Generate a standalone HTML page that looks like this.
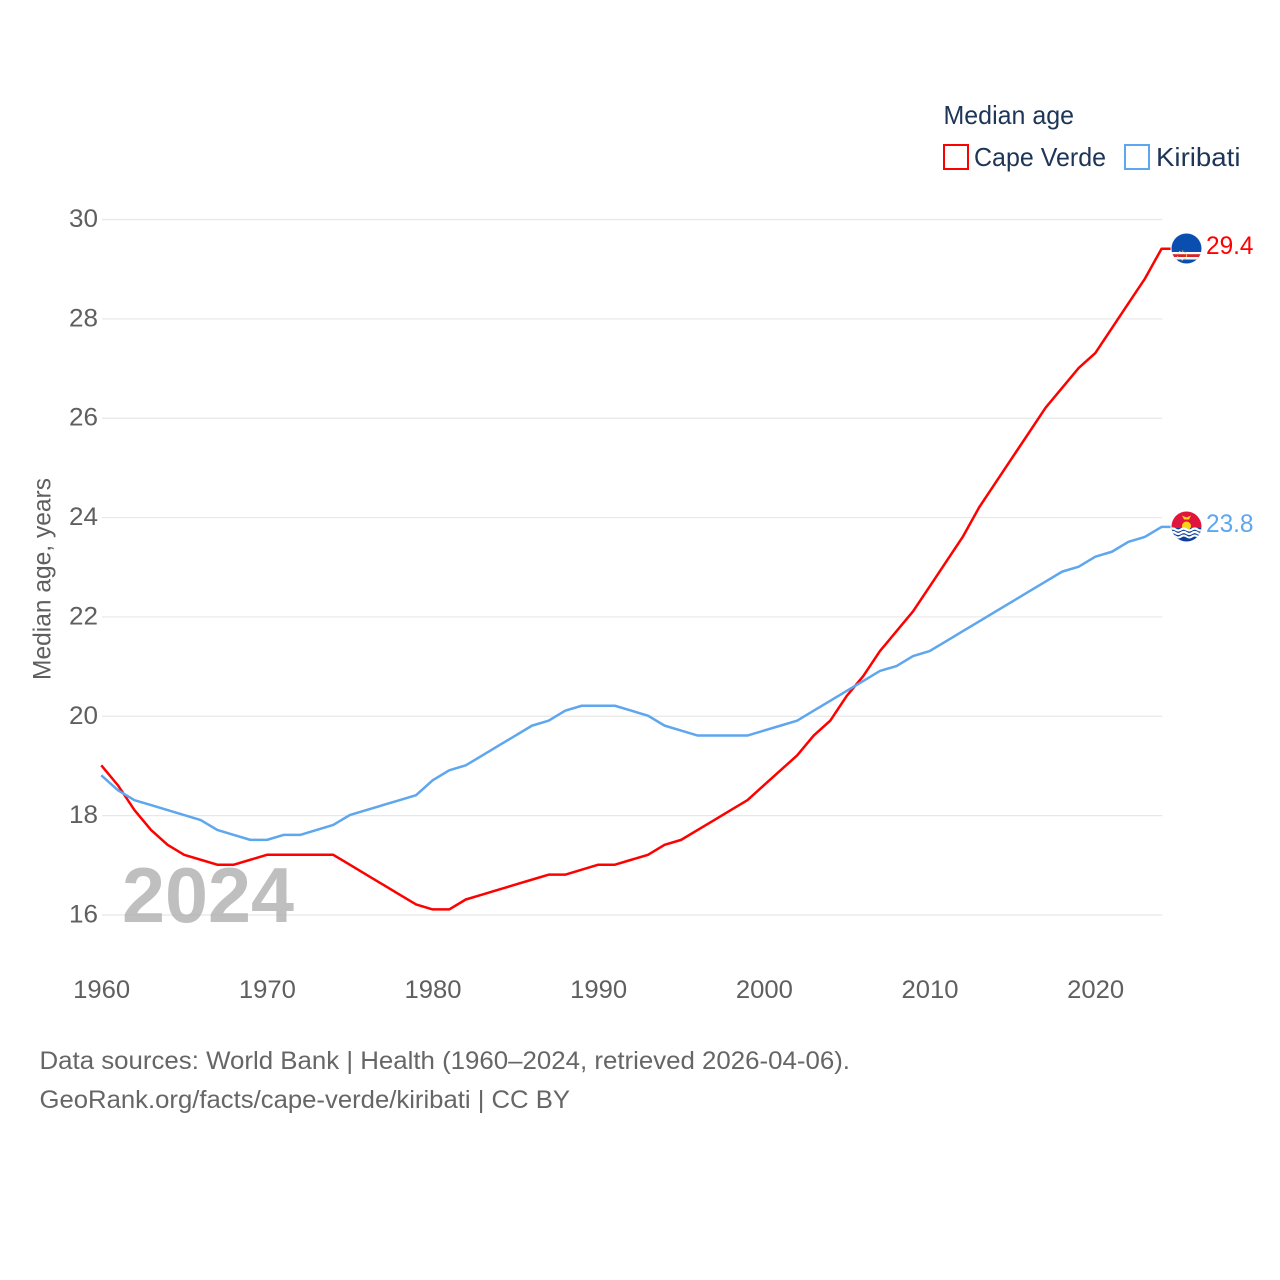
<!DOCTYPE html>
<html lang="en">
<head>
<meta charset="utf-8">
<title>Median age: Cape Verde and Kiribati</title>
<style>
html,body{margin:0;padding:0;background:#fff;}
svg{display:block;}
text{font-family:"Liberation Sans",sans-serif;}
.tick{font-size:25px;fill:#5f5f5f;}
.note{font-size:25px;fill:#666;}
.leg{font-size:26px;fill:#1d3557;}
</style>
</head>
<body>
<svg id="chart" xmlns="http://www.w3.org/2000/svg" width="1280" height="1280" viewBox="0 0 1280 1280">
  <defs>
    <clipPath id="cv-clip"><circle cx="1186.5" cy="248.5" r="15"/></clipPath>
    <clipPath id="ki-clip"><circle cx="1186.5" cy="526.5" r="15"/></clipPath>
  </defs>
  <rect x="0" y="0" width="1280" height="1280" fill="#fff"/>
  <g id="grid"></g>
  <g id="yticks"></g>
  <g id="xticks"></g>
  <text x="0" y="0" transform="translate(50.5,680) rotate(-90)" class="tick" textLength="202" lengthAdjust="spacingAndGlyphs">Median age, years</text>
  <text id="year-label" x="122" y="922" font-size="78" font-weight="700" fill="#a6a6a6" fill-opacity="0.72" textLength="172" lengthAdjust="spacingAndGlyphs">2024</text>
  <g id="series" transform="translate(-0.7,-0.6)"></g>

  <g>
    <text x="943.5" y="124" class="leg" textLength="130.5" lengthAdjust="spacingAndGlyphs">Median age</text>
    <g>
      <rect x="944" y="145" width="24" height="24" fill="#fff" stroke="#ff0000" stroke-width="2"/>
      <text x="974" y="166" class="leg" textLength="132" lengthAdjust="spacingAndGlyphs">Cape Verde</text>
    </g>
    <g>
      <rect x="1125" y="145" width="24" height="24" fill="#fff" stroke="#5ea6ee" stroke-width="2"/>
      <text x="1156" y="166" class="leg" textLength="84.5" lengthAdjust="spacingAndGlyphs">Kiribati</text>
    </g>
  </g>

  <g clip-path="url(#cv-clip)">
    <rect x="1170" y="232" width="34" height="34" fill="#0a4fb0"/>
    <rect x="1170" y="252" width="34" height="7.5" fill="#fff"/>
    <rect x="1170" y="254.2" width="34" height="2.8" fill="#d8232a"/>
    <circle cx="1182" cy="255.5" r="4.5" fill="none" stroke="#e8c85a" stroke-width="1" stroke-dasharray="1.5 1.5"/>
  </g>
  <text x="1206" y="254" font-size="25" fill="#ff0000" textLength="47.5" lengthAdjust="spacingAndGlyphs">29.4</text>

  <g clip-path="url(#ki-clip)">
    <rect x="1170" y="510" width="34" height="18" fill="#e0153d"/>
    <rect x="1170" y="528" width="34" height="16" fill="#0d3f9e"/>
    <circle cx="1186.5" cy="526" r="4.5" fill="#fcd116"/>
    <path d="M1182 515.5 L1186.5 517.5 L1191 515.5 L1189 519.5 L1184 519.5 Z" fill="#fcd116"/>
    <path d="M1170 529.5 q2.8 -2 5.5 0 t5.5 0 t5.5 0 t5.5 0 t5.5 0 t5.5 0" fill="none" stroke="#fff" stroke-width="2.2"/>
    <path d="M1170 533 q2.8 -2 5.5 0 t5.5 0 t5.5 0 t5.5 0 t5.5 0 t5.5 0" fill="none" stroke="#fff" stroke-width="2.2"/>
    <path d="M1170 536.5 q2.8 -2 5.5 0 t5.5 0 t5.5 0 t5.5 0 t5.5 0 t5.5 0" fill="none" stroke="#fff" stroke-width="2"/>
  </g>
  <text x="1206" y="532" font-size="25" fill="#5ea6ee" textLength="47.5" lengthAdjust="spacingAndGlyphs">23.8</text>

  <text x="39.5" y="1069" class="note" textLength="810.5" lengthAdjust="spacingAndGlyphs">Data sources: World Bank | Health (1960–2024, retrieved 2026-04-06).</text>
  <text x="39.5" y="1108" class="note" textLength="530.5" lengthAdjust="spacingAndGlyphs">GeoRank.org/facts/cape-verde/kiribati | CC BY</text>
</svg>
<script>
const startYear = 1960;
const capeVerde = [19.0,18.6,18.1,17.7,17.4,17.2,17.1,17.0,17.0,17.1,17.2,17.2,17.2,17.2,17.2,17.0,16.8,16.6,16.4,16.2,16.1,16.1,16.3,16.4,16.5,16.6,16.7,16.8,16.8,16.9,17.0,17.0,17.1,17.2,17.4,17.5,17.7,17.9,18.1,18.3,18.6,18.9,19.2,19.6,19.9,20.4,20.8,21.3,21.7,22.1,22.6,23.1,23.6,24.2,24.7,25.2,25.7,26.2,26.6,27.0,27.3,27.8,28.3,28.8,29.4];
const kiribati = [18.8,18.5,18.3,18.2,18.1,18.0,17.9,17.7,17.6,17.5,17.5,17.6,17.6,17.7,17.8,18.0,18.1,18.2,18.3,18.4,18.7,18.9,19.0,19.2,19.4,19.6,19.8,19.9,20.1,20.2,20.2,20.2,20.1,20.0,19.8,19.7,19.6,19.6,19.6,19.6,19.7,19.8,19.9,20.1,20.3,20.5,20.7,20.9,21.0,21.2,21.3,21.5,21.7,21.9,22.1,22.3,22.5,22.7,22.9,23.0,23.2,23.3,23.5,23.6,23.8];
const yTickValues = [16,18,20,22,24,26,28,30];
const xTickValues = [1960,1970,1980,1990,2000,2010,2020];

const NS = 'http://www.w3.org/2000/svg';
function xScale(year){ return 102 + (year - 1960) * (1096 - 102) / 60; }
function yScale(v){ return 915 - (v - 16) * (915 - 219.5) / 14; }

const grid = document.getElementById('grid');
const yticks = document.getElementById('yticks');
const xticks = document.getElementById('xticks');
const seriesGroup = document.getElementById('series');

yTickValues.forEach(function(v){
  const line = document.createElementNS(NS, 'line');
  
  
  line.setAttribute('x1', xScale(1960));
  line.setAttribute('x2', xScale(2024));
  line.setAttribute('y1', yScale(v));
  line.setAttribute('y2', yScale(v));
  line.setAttribute('stroke', '#e8e8e8');
  line.setAttribute('stroke-width', '1.2');
  grid.appendChild(line);

  const label = document.createElementNS(NS, 'text');
  
  
  label.setAttribute('x', 98);
  label.setAttribute('y', yScale(v) + 7.5);
  label.setAttribute('text-anchor', 'end');
  label.setAttribute('class', 'tick');
  label.setAttribute('textLength', '29');
  label.setAttribute('lengthAdjust', 'spacingAndGlyphs');
  label.textContent = String(v);
  yticks.appendChild(label);
});

xTickValues.forEach(function(year){
  const label = document.createElementNS(NS, 'text');
  
  
  label.setAttribute('x', xScale(year) - 28.8);
  label.setAttribute('y', 998);
  label.setAttribute('class', 'tick');
  label.setAttribute('textLength', '57');
  label.setAttribute('lengthAdjust', 'spacingAndGlyphs');
  label.textContent = String(year);
  xticks.appendChild(label);
});

function drawSeries(values, color, name){
  const pts = values.map(function(v, i){
    return xScale(startYear + i).toFixed(2) + ',' + yScale(v).toFixed(2);
  });
  const last = values[values.length - 1];
  pts.push((xScale(startYear + values.length - 1) + 9).toFixed(2) + ',' + yScale(last).toFixed(2));
  const line = document.createElementNS(NS, 'polyline');
  
  
  line.setAttribute('points', pts.join(' '));
  line.setAttribute('fill', 'none');
  line.setAttribute('stroke', color);
  line.setAttribute('stroke-width', '2.5');
  line.setAttribute('stroke-linejoin', 'round');
  seriesGroup.appendChild(line);
}
drawSeries(capeVerde, '#ff0000', 'line-cape-verde');
drawSeries(kiribati, '#5ea6ee', 'line-kiribati');
</script>
</body>
</html>
